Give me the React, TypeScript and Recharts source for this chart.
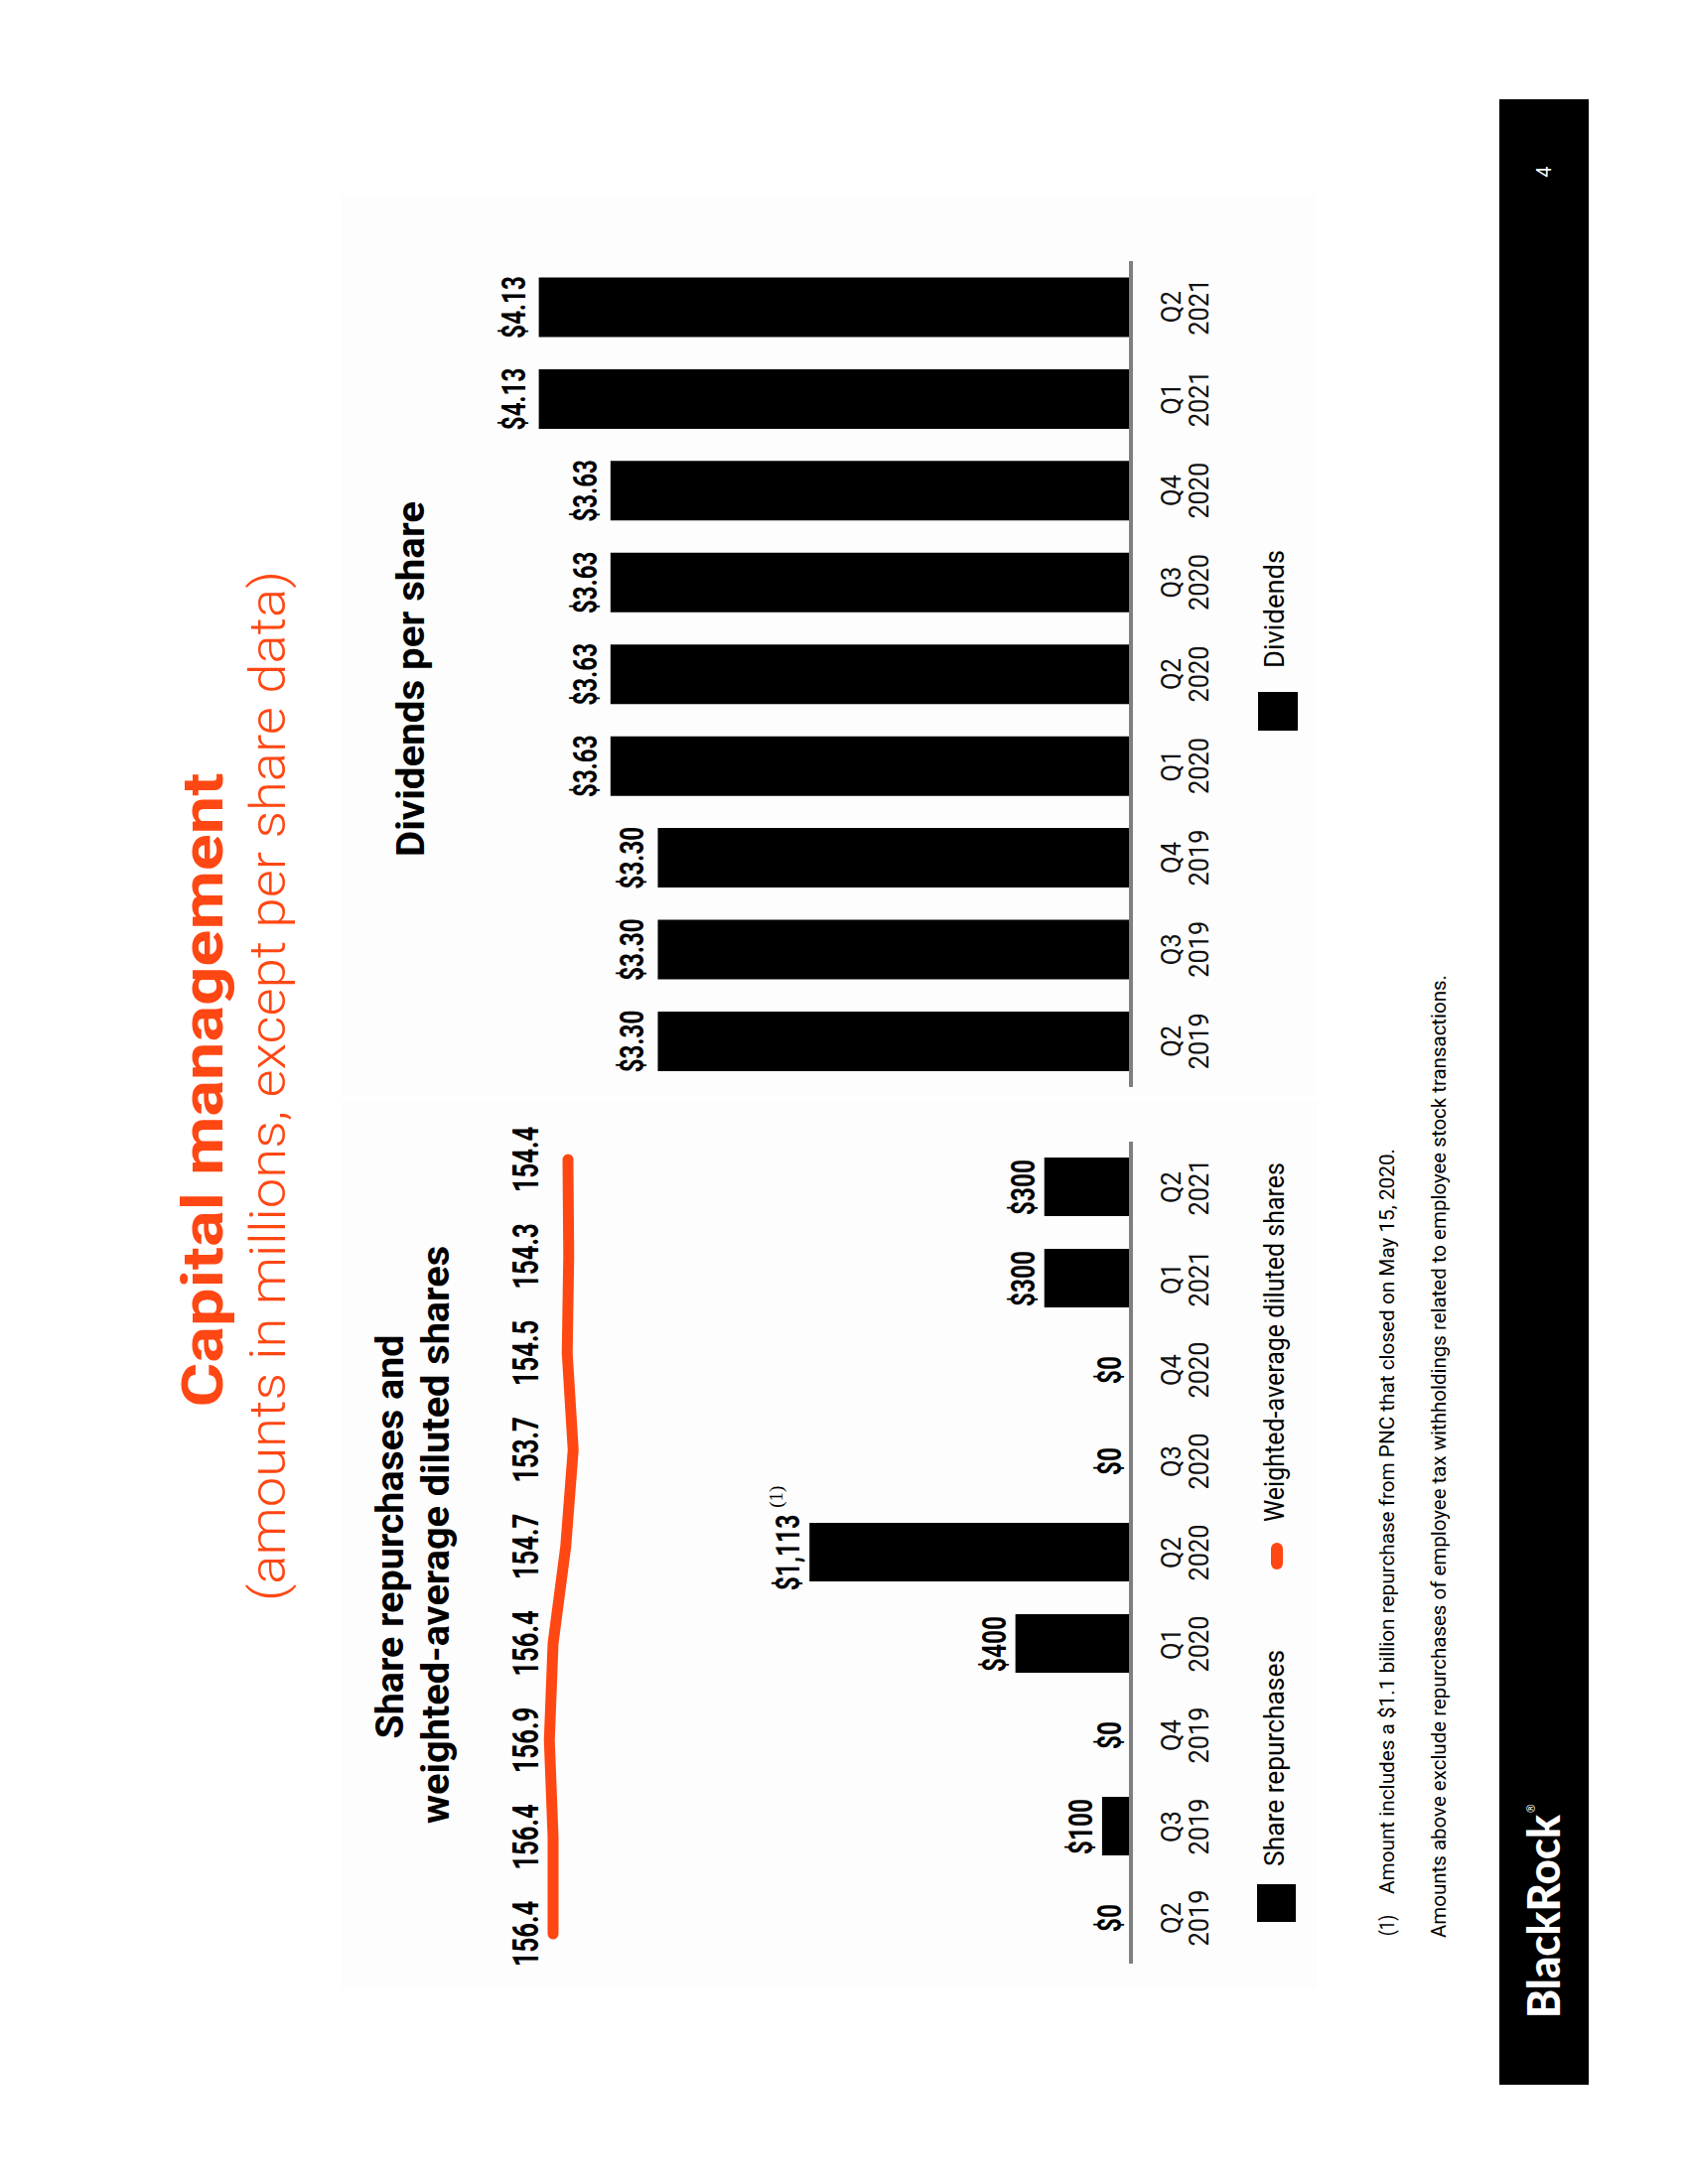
import React from "react";
import { ComposedChart, BarChart, LineChart, Bar, Line, XAxis, YAxis, LabelList } from "recharts";

// quarters shown on both charts
const quarters = ["Q2 2019", "Q3 2019", "Q4 2019", "Q1 2020", "Q2 2020", "Q3 2020", "Q4 2020", "Q1 2021", "Q2 2021"];
// share repurchases, $ millions
const repurchases = [0, 100, 0, 400, 1113, 0, 0, 300, 300];
const repurchaseNotes = ["", "", "", "", "(1)", "", "", "", ""];
// weighted-average diluted shares, millions
const dilutedShares = [156.4, 156.4, 156.9, 156.4, 154.7, 153.7, 154.5, 154.3, 154.4];
// dividends per share, $
const dividends = [3.3, 3.3, 3.3, 3.63, 3.63, 3.63, 3.63, 4.13, 4.13];

const ORANGE = "#FF4713";
const FONT = "Roboto, 'Liberation Sans', Arial, sans-serif";

const leftData = quarters.map((q, i) => ({ quarter: q, repurchases: repurchases[i] }));
const shareData = quarters.map((q, i) => ({ quarter: q, shares: dilutedShares[i] }));
const rightData = quarters.map((q, i) => ({ quarter: q, dividends: dividends[i] }));

// the slide uses a condensed face, so squeeze text to these widths
const condensedWidth = (s: string, fs: number) =>
  s.split("").reduce((w, c) => w + (c === "." || c === "," ? 0.2 : 0.41) * fs, 0);

const T = ({ x, y, len, size, weight = 400, fill = "#000", anchor = "middle", family = FONT, children }: any) => (
  <text
    x={x}
    y={y}
    fontSize={size}
    fontWeight={weight}
    fill={fill}
    textAnchor={anchor}
    fontFamily={family}
    textLength={len}
    lengthAdjust="spacingAndGlyphs"
  >
    {children}
  </text>
);

const QuarterTick = (props: any) => {
  const { x, y, payload } = props;
  const [q, yr] = String(payload.value).split(" ");
  return (
    <g>
      <T x={x} y={y + 48} size={28} len={32} fill="#111">{q}</T>
      <T x={x} y={y + 76} size={28} len={57} fill="#111">{yr}</T>
    </g>
  );
};

const pos = (props: any) => {
  const vb = props.viewBox || {};
  return {
    x: vb.x ?? props.x,
    y: vb.y ?? props.y,
    width: vb.width ?? props.width ?? 0,
  };
};

// drawn on an invisible line so that the $0 quarters get a label too
const RepurchaseLabel = (props: any) => {
  const { x, y } = pos(props);
  const text = `$${Number(props.value).toLocaleString("en-US")}`;
  const len = condensedWidth(text, 34);
  const note = repurchaseNotes[props.index] || "";
  return (
    <g>
      <T x={x} y={y - 10} size={34} weight={700} len={len}>{text}</T>
      {note && (
        <text x={x + len / 2 + 7} y={y - 27} fontSize={19} fontFamily="'Liberation Serif', serif" fill="#000">
          {note}
        </text>
      )}
    </g>
  );
};

const DividendLabel = (props: any) => {
  const { x, y, width } = pos(props);
  const text = `$${Number(props.value).toFixed(2)}`;
  return <T x={x + width / 2} y={y - 14} size={34} weight={700} len={condensedWidth(text, 34)}>{text}</T>;
};

// share counts sit on one row above the line
const SHARE_ROW_Y = 62;
const ShareLabel = (props: any) => {
  const { x } = pos(props);
  const text = Number(props.value).toFixed(1);
  return <T x={x} y={SHARE_ROW_Y} size={36} weight={700} len={condensedWidth(text, 36)}>{text}</T>;
};

const axisLine = { stroke: "#7f7f7f", strokeWidth: 4 };

function Slide() {
  return (
    <div
      style={{
        position: "absolute",
        left: -150,
        top: 350,
        width: 2000,
        height: 1500,
        transform: "rotate(-90deg)",
        transformOrigin: "center",
        background: "#fff",
        fontFamily: FONT,
      }}
    >
      <svg width={2000} height={1500} style={{ position: "absolute", left: 0, top: 0 }}>
        <rect x={96} y={244} width={896} height={983} fill="#fdfdfd" />
        <rect x={996} y={244} width={908} height={981} fill="#fdfdfd" />

        <T x={1002} y={124} size={58} weight={700} fill={ORANGE} len={639}>Capital management</T>
        <T x={1006} y={187} size={50} weight={300} fill={ORANGE} len={1038}>(amounts in millions, except per share data)</T>

        <T x={552} y={306} size={39} weight={700} len={407}>Share repurchases and</T>
        <T x={554} y={352} size={39} weight={700} len={582}>weighted-average diluted shares</T>
        <T x={1416} y={327} size={39} weight={700} len={358}>Dividends per share</T>

        <rect x={164} y={1166} width={38} height={39} fill="#000" />
        <T x={220} y={1193} size={28} anchor="start" len={218}>Share repurchases</T>
        <line x1={525} y1={1186} x2={540} y2={1186} stroke={ORANGE} strokeWidth={12} strokeLinecap="round" />
        <T x={567} y={1193} size={28} anchor="start" len={362}>Weighted-average diluted shares</T>
        <rect x={1364} y={1167} width={39} height={40} fill="#000" />
        <T x={1427} y={1193} size={28} anchor="start" len={119}>Dividends</T>

        <T x={150} y={1304} size={20} anchor="start" len={21}>(1)</T>
        <T x={192} y={1304} size={20} anchor="start" len={751}>
          Amount includes a $1.1 billion repurchase from PNC that closed on May 15, 2020.
        </T>
        <T x={148} y={1356} size={20} anchor="start" len={970}>
          Amounts above exclude repurchases of employee tax withholdings related to employee stock transactions.
        </T>

        <rect x={0} y={1410} width={2000} height={90} fill="#000" />
        <T x={67} y={1471} size={46} weight={900} fill="#fff" anchor="start" len={205} family="Lato, Roboto, sans-serif">
          BlackRock
        </T>
        <text x={274} y={1446} fontSize={11} fill="#fff" fontFamily={FONT}>®</text>
        <T x={1927} y={1462} size={20} fill="#fff">4</T>
      </svg>

      <div style={{ position: "absolute", left: 100, top: 380 }}>
        <ComposedChart width={880} height={750} data={leftData} margin={{ top: 19, right: 30, left: 22, bottom: 11 }}>
          <XAxis
            dataKey="quarter"
            interval={0}
            tickLine={false}
            tickSize={0}
            height={80}
            axisLine={axisLine}
            tick={(p: any) => <QuarterTick {...p} />}
          />
          <YAxis yAxisId="bars" hide domain={[0, 2200]} allowDataOverflow />
          <Bar yAxisId="bars" dataKey="repurchases" fill="#000" barSize={59} isAnimationActive={false} />
          <Line
            yAxisId="bars"
            dataKey="repurchases"
            stroke="none"
            dot={false}
            activeDot={false}
            legendType="none"
            isAnimationActive={false}
          >
            <LabelList dataKey="repurchases" content={(p: any) => <RepurchaseLabel {...p} />} />
          </Line>
        </ComposedChart>
      </div>

      <div style={{ position: "absolute", left: 60, top: 380 }}>
        <LineChart width={980} height={200} data={shareData} margin={{ top: 50, right: 108, left: 92, bottom: 75 }}>
          <XAxis dataKey="quarter" hide scale="point" />
          <YAxis hide domain={[150, 160]} allowDataOverflow />
          <Line
            type="linear"
            dataKey="shares"
            stroke={ORANGE}
            strokeWidth={11}
            strokeLinecap="round"
            strokeLinejoin="round"
            dot={false}
            activeDot={false}
            isAnimationActive={false}
          >
            <LabelList dataKey="shares" content={(p: any) => <ShareLabel {...p} />} />
          </Line>
        </LineChart>
      </div>

      <div style={{ position: "absolute", left: 980, top: 300 }}>
        <BarChart width={900} height={830} data={rightData} margin={{ top: 17, right: 43, left: 25, bottom: 11 }}>
          <XAxis
            dataKey="quarter"
            interval={0}
            tickLine={false}
            tickSize={0}
            height={80}
            axisLine={axisLine}
            tick={(p: any) => <QuarterTick {...p} />}
          />
          <YAxis hide domain={[0, 5]} allowDataOverflow />
          <Bar dataKey="dividends" fill="#000" barSize={60} isAnimationActive={false}>
            <LabelList dataKey="dividends" content={(p: any) => <DividendLabel {...p} />} />
          </Bar>
        </BarChart>
      </div>
    </div>
  );
}

export default function App() {
  return (
    <div style={{ position: "relative", width: 1700, height: 2200, margin: -8, overflow: "hidden", background: "#fff" }}>
      <Slide />
    </div>
  );
}
